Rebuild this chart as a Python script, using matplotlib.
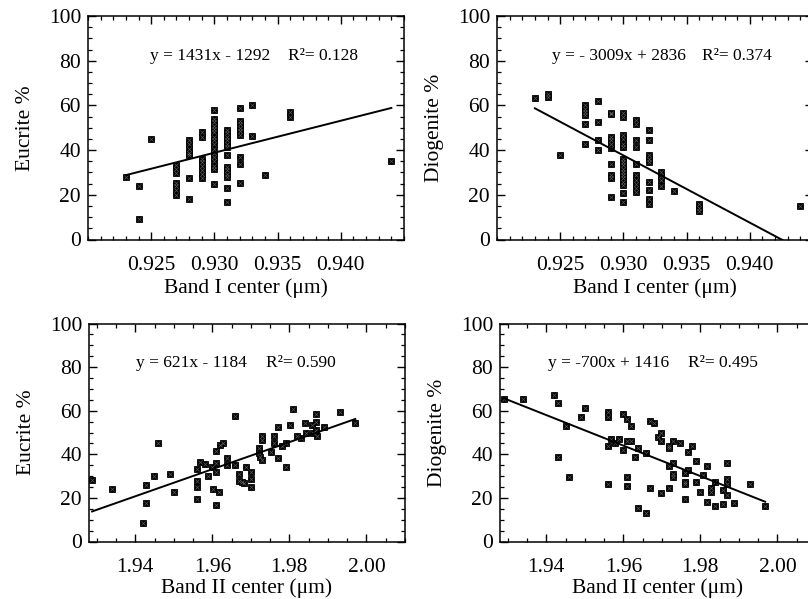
import numpy as np
import matplotlib
matplotlib.use('Agg')
import matplotlib.pyplot as plt
from matplotlib.ticker import MultipleLocator

plt.rcParams['font.family'] = ['Liberation Serif', 'DejaVu Serif']

# Band I center (um) vs Eucrite %
b1_euc_x = [0.923, 0.924, 0.924, 0.925,
            0.927, 0.927, 0.927, 0.927, 0.927, 0.927, 0.927,
            0.928, 0.928, 0.928, 0.928, 0.928, 0.928, 0.928,
            0.929, 0.929, 0.929, 0.929, 0.929, 0.929, 0.929, 0.929,
            0.930, 0.930, 0.930, 0.930, 0.930, 0.930, 0.930, 0.930,
            0.930, 0.930, 0.930, 0.930, 0.930, 0.930, 0.930, 0.930,
            0.931, 0.931, 0.931, 0.931, 0.931, 0.931, 0.931, 0.931,
            0.931, 0.931, 0.931, 0.931, 0.931,
            0.932, 0.932, 0.932, 0.932, 0.932, 0.932, 0.932, 0.932, 0.932,
            0.933, 0.933, 0.934, 0.936, 0.936, 0.944]
b1_euc_y = [28, 24, 9, 45,
            33.5, 31.7, 29.8, 25.3, 23.8, 22, 20,
            44.4, 42.6, 40.7, 38.7, 37.7, 27.3, 18.3,
            48, 46, 36.2, 34.7, 32.8, 31, 29.5, 27.7,
            58, 54, 52.6, 51, 49.6, 48, 46, 44.4,
            42.6, 40.7, 38.7, 37, 35, 33, 31.7, 24.7,
            49, 47.7, 46, 44.4, 42.9, 41.4, 38, 32.5,
            31, 29.5, 28, 23, 16.8,
            59, 53, 51.6, 50, 48.6, 46.6, 37, 34, 25.5,
            60, 46.2, 29, 57, 54.8, 35]

# Band I center (um) vs Diogenite %
b1_dio_x = [0.923, 0.924, 0.924, 0.925,
            0.927, 0.927, 0.927, 0.927, 0.927, 0.927,
            0.928, 0.928, 0.928, 0.928,
            0.929, 0.929, 0.929, 0.929, 0.929, 0.929, 0.929, 0.929, 0.929, 0.929,
            0.930, 0.930, 0.930, 0.930, 0.930, 0.930, 0.930, 0.930, 0.930,
            0.930, 0.930, 0.930, 0.930, 0.930, 0.930, 0.930, 0.930,
            0.931, 0.931, 0.931, 0.931, 0.931, 0.931, 0.931, 0.931, 0.931, 0.931,
            0.932, 0.932, 0.932, 0.932, 0.932, 0.932, 0.932, 0.932, 0.932,
            0.933, 0.933, 0.933, 0.933, 0.934,
            0.936, 0.936, 0.936, 0.944]
b1_dio_y = [63.5, 65.3, 63.8, 37.7,
            60, 58.6, 57, 55.6, 51.9, 42.6,
            61.8, 52.6, 44.7, 40,
            56.6, 56, 45.9, 44.4, 42.9, 41.1, 33.7, 28.8, 27.3, 18.8,
            56.6, 54.8, 46.6, 45.1, 42.9, 41.4, 36.2, 34.7, 33.2,
            31.7, 30.2, 28.8, 27.3, 25.8, 24.3, 20.9, 16.8,
            53.6, 51.9, 44.7, 41.4, 33.7, 28.8, 26.8, 25, 23.2, 21.3,
            48.9, 44.7, 37.7, 36.2, 34.7, 25.8, 22, 17.9, 16,
            30.2, 28.3, 26.5, 23.8, 21.8,
            16, 14.3, 12.8, 14.9]

# Band II center (um) vs Eucrite %
b2_euc_x = [1.9288, 1.9339, 1.9419, 1.9429, 1.9429, 1.9449, 1.9459, 1.9489, 1.9500,
            1.9560, 1.9560, 1.9560, 1.9560, 1.9569, 1.9582, 1.9588, 1.9599, 1.9601,
            1.9610, 1.9610, 1.9610, 1.9610, 1.9618, 1.9619, 1.9629, 1.9638, 1.9638,
            1.9658, 1.9660, 1.9668, 1.9670, 1.9677, 1.9681, 1.9688, 1.9700, 1.9700,
            1.9700, 1.9720, 1.9720, 1.9725, 1.9730, 1.9730, 1.9730, 1.9751, 1.9759,
            1.9759, 1.9770, 1.9771, 1.9780, 1.9790, 1.9790, 1.9801, 1.9810, 1.9820,
            1.9831, 1.9840, 1.9842, 1.9859, 1.9861, 1.9870, 1.9870, 1.9870, 1.9872,
            1.9891, 1.9931, 1.9971]
b2_euc_y = [28.0, 23.9, 8.6, 17.8, 25.9, 30.0, 45.3, 31.1, 22.8,
            33.1, 27.9, 25.1, 19.6, 36.3, 35.4, 30.0, 34.3, 23.9,
            41.5, 35.8, 32.0, 16.7, 22.8, 44.2, 45.3, 38.1, 35.0,
            35.0, 57.6, 30.9, 27.9, 27.4, 27.0, 34.0, 31.7, 28.5,
            24.8, 42.7, 40.4, 38.9, 48.4, 46.6, 37.3, 41.2, 48.4,
            45.0, 52.4, 38.4, 43.8, 45.0, 34.0, 53.4, 60.6, 48.4,
            47.4, 54.5, 49.9, 53.4, 49.6, 58.3, 55.0, 51.1, 48.4,
            52.4, 59.5, 54.5]

# Band II center (um) vs Diogenite %
b2_dio_x = [1.9290, 1.9340, 1.9420, 1.9430, 1.9430, 1.9450, 1.9460, 1.9490, 1.9501,
            1.9559, 1.9559, 1.9559, 1.9559, 1.9569, 1.9579, 1.9589, 1.9599, 1.9599,
            1.9609, 1.9609, 1.9609, 1.9609, 1.9619, 1.9619, 1.9630, 1.9639, 1.9639,
            1.9660, 1.9660, 1.9669, 1.9669, 1.9679, 1.9690, 1.9698, 1.9698, 1.9698,
            1.9718, 1.9718, 1.9718, 1.9718, 1.9728, 1.9728, 1.9728, 1.9728, 1.9748,
            1.9759, 1.9759, 1.9759, 1.9759, 1.9768, 1.9768, 1.9778, 1.9788, 1.9788,
            1.9798, 1.9808, 1.9818, 1.9818, 1.9828, 1.9828, 1.9839, 1.9839, 1.9859,
            1.9859, 1.9869, 1.9869, 1.9869, 1.9869, 1.9888, 1.9929, 1.9968]
b2_dio_y = [65.4, 65.4, 67.3, 63.4, 38.9, 53.2, 29.7, 57.3, 61.4,
            59.6, 57.3, 43.8, 26.4, 47.0, 45.0, 47.0, 58.3, 42.0,
            56.2, 46.1, 29.7, 25.6, 53.2, 46.1, 38.9, 42.7, 15.2,
            40.7, 13.2, 55.3, 24.4, 54.2, 48.1, 50.0, 46.1, 22.4,
            43.8, 42.7, 34.7, 24.4, 46.1, 35.8, 30.9, 29.7, 45.0,
            31.6, 27.4, 26.4, 19.3, 40.9, 32.8, 43.8, 36.9, 27.4,
            22.5, 30.5, 34.7, 18.2, 24.4, 22.5, 27.4, 16.4, 23.6,
            17.1, 35.8, 28.5, 26.6, 21.3, 17.5, 26.4, 16.4]

# regression results printed on each panel
fits = [(1431, -1292), (-3009, 2836), (621, -1184), (-700, 1416)]
eq_text = ['y = 1431x - 1292', 'y = - 3009x + 2836', 'y = 621x - 1184', 'y = -700x + 1416']
r2_text = ['R\u00b2= 0.128', 'R\u00b2= 0.374', 'R\u00b2= 0.590', 'R\u00b2= 0.495']

band1_ticks = [0.925, 0.930, 0.935, 0.940]
band1_labels = ['0.925', '0.930', '0.935', '0.940']
band2_ticks = [1.94, 1.96, 1.98, 2.00]
band2_labels = ['1.94', '1.96', '1.98', '2.00']
y_ticks = [0, 20, 40, 60, 80, 100]

W, H = 808, 599
fig = plt.figure(figsize=(W / 100, H / 100), dpi=100)


def px_axes(left, top, right, bottom):
    return fig.add_axes([left / W, 1 - bottom / H, (right - left) / W, (bottom - top) / H])


panels = [
    (px_axes(88, 16, 404, 239.5), b1_euc_x, b1_euc_y, 'Eucrite %', 'Band I center (\u03bcm)', 1),
    (px_axes(497, 16, 813, 239.5), b1_dio_x, b1_dio_y, 'Diogenite %', 'Band I center (\u03bcm)', 1),
    (px_axes(89, 323.5, 405, 541.5), b2_euc_x, b2_euc_y, 'Eucrite %', 'Band II center (\u03bcm)', 2),
    (px_axes(500, 323.5, 816, 541.5), b2_dio_x, b2_dio_y, 'Diogenite %', 'Band II center (\u03bcm)', 2),
]
eq_pos = [(0.196, 0.633), (0.174, 0.649), (0.149, 0.56), (0.152, 0.595)]

for i, (ax, xs, ys, ylab, xlab, band) in enumerate(panels):
    # boxed-cross symbols: dark square with a faint light cross
    ax.plot(xs, ys, linestyle='none', marker='s', ms=4.6, mew=0.6,
            mfc='black', mec='black')
    ax.plot(xs, ys, linestyle='none', marker='x', ms=3.0, mew=0.5, color='white', alpha=0.35)
    slope, icpt = fits[i]
    xl = np.array([min(xs), max(xs)])
    ax.plot(xl, slope * xl + icpt, color='black', lw=1.4)

    if band == 1:
        ax.set_xlim(0.920, 0.945)
        ax.set_xticks(band1_ticks, band1_labels)
        ax.xaxis.set_minor_locator(MultipleLocator(0.001))
    else:
        ax.set_xlim(1.928, 2.010)
        ax.set_xticks(band2_ticks, band2_labels)
        ax.xaxis.set_minor_locator(MultipleLocator(0.005))
    ax.set_ylim(0, 100)
    ax.set_yticks(y_ticks)
    ax.yaxis.set_minor_locator(MultipleLocator(5))

    ax.tick_params(which='both', direction='in', top=True, right=True, labelsize=15.5)
    ax.tick_params(which='major', length=6, width=1)
    ax.tick_params(which='minor', length=3, width=0.9)
    ax.tick_params(axis='x', pad=12)
    ax.tick_params(axis='y', pad=5)
    for s in ax.spines.values():
        s.set_linewidth(1.1)

    ax.set_ylabel(ylab, fontsize=15.5, labelpad=10)
    ax.set_xlabel(xlab, fontsize=15.5, labelpad=2 if band == 1 else 1)

    ex, rx = eq_pos[i]
    ax.text(ex, 82, eq_text[i], transform=ax.get_yaxis_transform(), fontsize=12.5, va='center')
    ax.text(rx, 82, r2_text[i], transform=ax.get_yaxis_transform(), fontsize=12.5, va='center')

fig.savefig('out.png', dpi=100)
